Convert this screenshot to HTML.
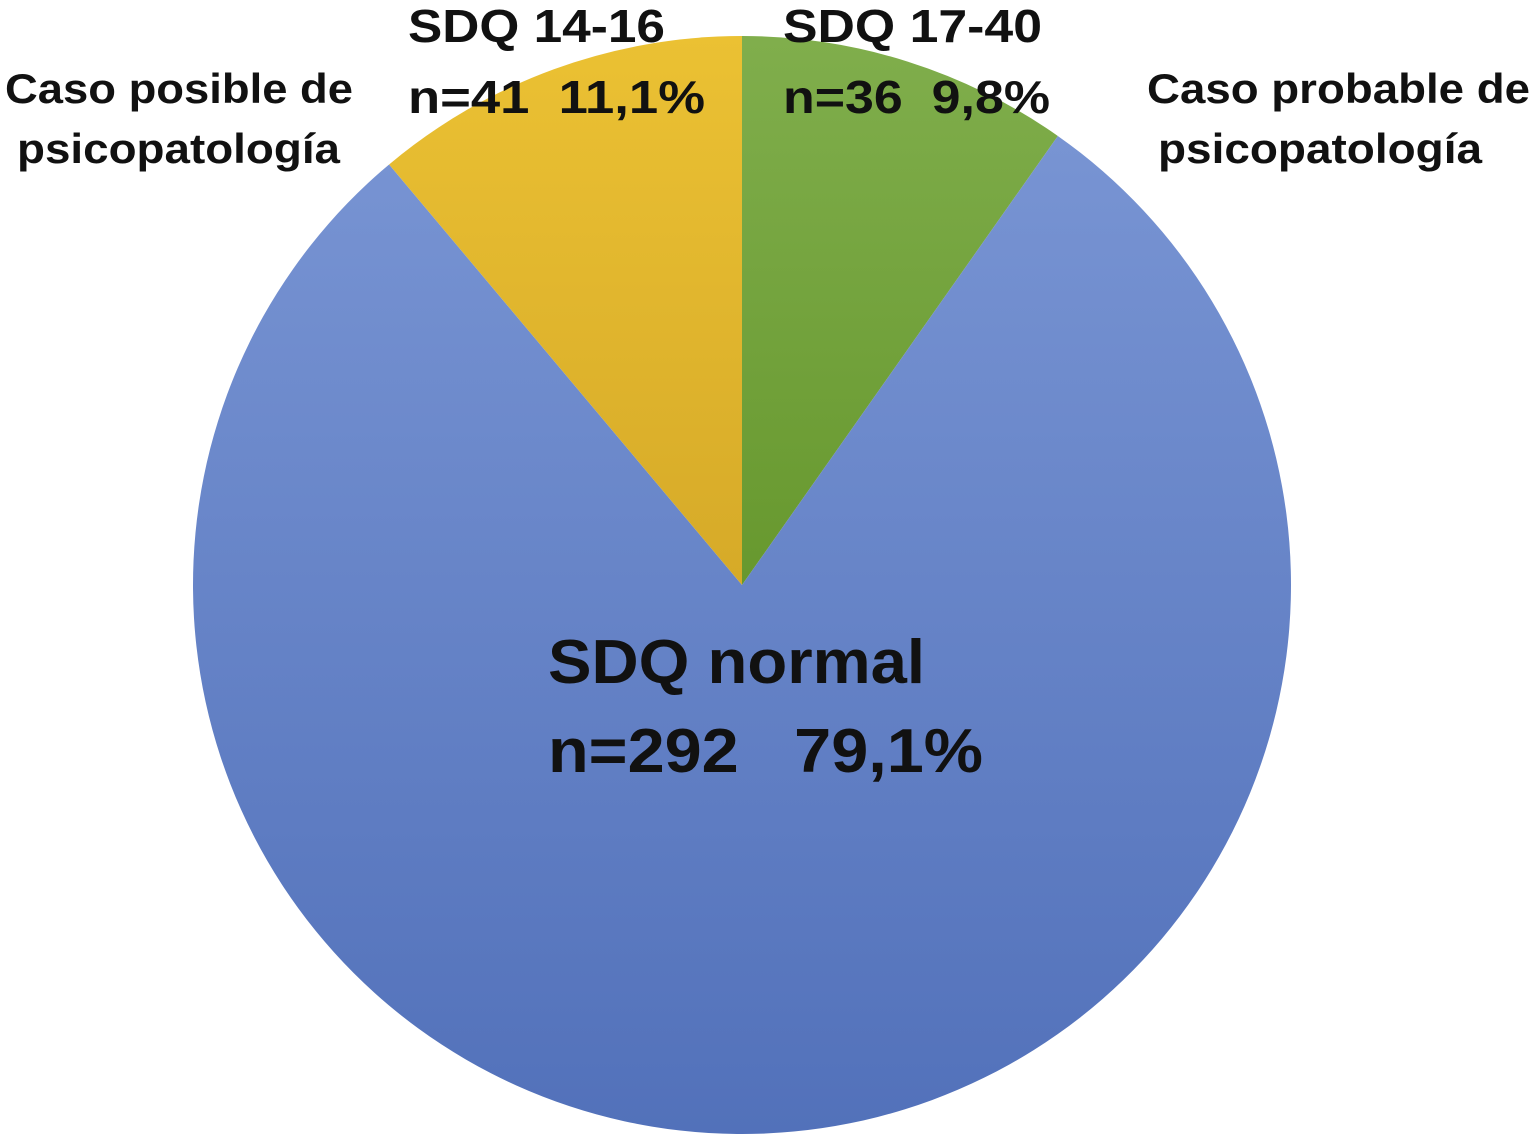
<!DOCTYPE html>
<html>
<head>
<meta charset="utf-8">
<style>
html,body{margin:0;padding:0;background:#fff;}
svg{display:block;}
text{font-family:"Liberation Sans",sans-serif;font-weight:bold;fill:#111;}
</style>
</head>
<body>
<svg id="chart" width="1535" height="1140" viewBox="0 0 1535 1140">
<defs>
<linearGradient id="gBlue" x1="0" y1="0" x2="0" y2="1"><stop offset="0" stop-color="#7894d3"/><stop offset="1" stop-color="#5271ba"/></linearGradient>
<linearGradient id="gYellow" x1="0" y1="0" x2="0" y2="1"><stop offset="0" stop-color="#ebc133"/><stop offset="1" stop-color="#d6aa28"/></linearGradient>
<linearGradient id="gGreen" x1="0" y1="0" x2="0" y2="1"><stop offset="0" stop-color="#80ae4c"/><stop offset="1" stop-color="#67982e"/></linearGradient>
</defs>
<g id="slices"></g>
<g>
<text x="548" y="683" font-size="62" textLength="377" lengthAdjust="spacingAndGlyphs">SDQ normal</text>
<text x="548" y="772" font-size="62" textLength="435" lengthAdjust="spacingAndGlyphs" xml:space="preserve">n=292   79,1%</text>
<text x="408" y="42" font-size="46" textLength="257" lengthAdjust="spacingAndGlyphs">SDQ 14-16</text>
<text x="408" y="113" font-size="46" textLength="297" lengthAdjust="spacingAndGlyphs" xml:space="preserve">n=41  11,1%</text>
<text x="783" y="42" font-size="46" textLength="259" lengthAdjust="spacingAndGlyphs">SDQ 17-40</text>
<text x="783" y="113" font-size="46" textLength="267" lengthAdjust="spacingAndGlyphs" xml:space="preserve">n=36  9,8%</text>
<text x="5" y="103" font-size="42" textLength="348" lengthAdjust="spacingAndGlyphs">Caso posible de</text>
<text x="17" y="163" font-size="42" textLength="323" lengthAdjust="spacingAndGlyphs">psicopatología</text>
<text x="1147" y="103" font-size="42" textLength="383" lengthAdjust="spacingAndGlyphs">Caso probable de</text>
<text x="1158" y="163" font-size="42" textLength="324" lengthAdjust="spacingAndGlyphs">psicopatología</text>
</g>
</svg>
<script>
const categories = ["SDQ 17-40", "SDQ normal", "SDQ 14-16"];
const values = [36, 292, 41];
const fills = ["url(#gGreen)", "url(#gBlue)", "url(#gYellow)"];
const cx = 742, cy = 585, r = 549;
const total = values.reduce((a,b)=>a+b,0);
const g = document.getElementById('slices');
let a0 = 0;
function pt(a){ return [cx + r*Math.sin(a), cy - r*Math.cos(a)]; }
values.forEach((v,i)=>{
  const a1 = a0 + v/total*2*Math.PI;
  const p0 = pt(a0), p1 = pt(a1);
  const large = (a1-a0) > Math.PI ? 1 : 0;
  const path = document.createElementNS('http://www.w3.org/2000/svg','path');
  path.setAttribute('d', `M${cx},${cy} L${p0[0]},${p0[1]} A${r},${r} 0 ${large} 1 ${p1[0]},${p1[1]} Z`);
  path.setAttribute('fill', fills[i]);
  
  
  g.appendChild(path);
  a0 = a1;
});
</script>
</body>
</html>
